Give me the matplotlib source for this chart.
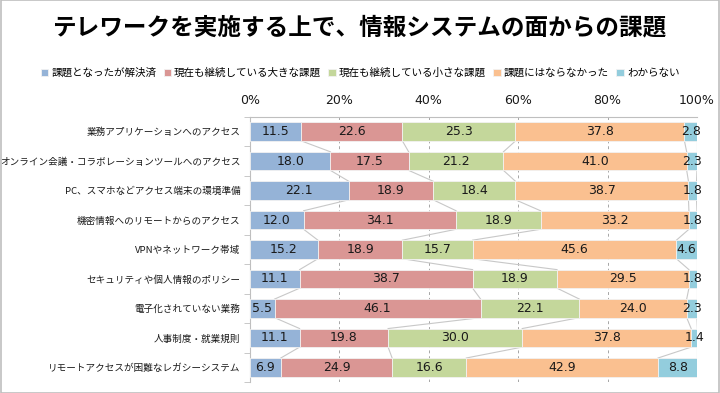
import matplotlib
matplotlib.use("Agg")
import matplotlib.pyplot as plt
import numpy as np
from matplotlib.patches import Rectangle

plt.rcParams['font.family'] = ['Noto Sans CJK JP', 'DejaVu Sans']

title = "テレワークを実施する上で、情報システムの面からの課題"
categories = [
    "業務アプリケーションへのアクセス",
    "オンライン会議・コラボレーションツールへのアクセス",
    "PC、スマホなどアクセス端末の環境準備",
    "機密情報へのリモートからのアクセス",
    "VPNやネットワーク帯域",
    "セキュリティや個人情報のポリシー",
    "電子化されていない業務",
    "人事制度・就業規則",
    "リモートアクセスが困難なレガシーシステム",
]
series_names = ["課題となったが解決済", "現在も継続している大きな課題", "現在も継続している小さな課題",
                "課題にはならなかった", "わからない"]
solved = [11.5, 18.0, 22.1, 12.0, 15.2, 11.1, 5.5, 11.1, 6.9]
big_issue = [22.6, 17.5, 18.9, 34.1, 18.9, 38.7, 46.1, 19.8, 24.9]
small_issue = [25.3, 21.2, 18.4, 18.9, 15.7, 18.9, 22.1, 30.0, 16.6]
no_issue = [37.8, 41.0, 38.7, 33.2, 45.6, 29.5, 24.0, 37.8, 42.9]
unknown = [2.8, 2.3, 1.8, 1.8, 4.6, 1.8, 2.3, 1.4, 8.8]
xticks = [0, 20, 40, 60, 80, 100]
xtick_labels = ["0%", "20%", "40%", "60%", "80%", "100%"]

colors = ["#95B3D7", "#DA9694", "#C4D79B", "#FAC090", "#93CDDD"]

fig = plt.figure(figsize=(7.2, 3.93), dpi=100)
ax = fig.add_axes([0.3472, 0.028, 0.6208, 0.6745])

data = [solved, big_issue, small_issue, no_issue, unknown]
y = np.arange(len(categories))
h = 0.63
left = np.zeros(len(categories))
cums = []
for vals, col, name in zip(data, colors, series_names):
    vals = np.array(vals)
    ax.barh(y, vals, left=left, height=h, color=col, edgecolor='#F2F2F2', linewidth=0.6,
            label=name, zorder=3)
    for yi, l, v in zip(y, left, vals):
        ax.text(l + v / 2, yi, f"{v:.1f}", ha='center', va='center', fontsize=9,
                family='DejaVu Sans', color='#1a1a1a', zorder=5)
    left = left + vals
    cums.append(left.copy())

# series lines
for c in cums:
    for i in range(len(categories) - 1):
        ax.plot([c[i], c[i + 1]], [i + h / 2, i + 1 - h / 2], color='#C8C8C8', lw=0.8, zorder=2)

ax.set_xlim(0, 100)
ax.set_ylim(len(categories) - 0.5, -0.5)
ax.xaxis.tick_top()
ax.set_xticks(xticks)
ax.set_xticklabels(xtick_labels, family='DejaVu Sans', fontsize=9, color='#1a1a1a')
ax.tick_params(axis='x', length=0, pad=7)
ax.set_yticks(y)
ax.set_yticklabels(categories, fontsize=6.9, color='#1a1a1a')
ax.tick_params(axis='y', length=0, pad=7)
ax.set_yticks(np.arange(-0.5, len(categories), 1), minor=True)
ax.tick_params(axis='y', which='minor', length=4, direction='out', color='#BFBFBF')
ax.grid(axis='x', linestyle=(0, (3, 3)), color='#A6A6A6', lw=0.7, zorder=1)
for s in ['right', 'bottom']:
    ax.spines[s].set_visible(False)
for s in ['left', 'top']:
    ax.spines[s].set_color('#BFBFBF')
    ax.spines[s].set_linewidth(0.8)

fig.text(0.5, 0.93, title, ha='center', va='center', fontsize=17, fontweight='bold')
handles, labels = ax.get_legend_handles_labels()
fig.legend(handles, labels, loc='center', bbox_to_anchor=(0.5, 0.815), ncol=5, frameon=False,
           fontsize=7.6, handlelength=0.7, handleheight=0.7, handletextpad=0.3,
           columnspacing=0.7)

fig.patches.append(Rectangle((0.001, 0.001), 0.998, 0.998, transform=fig.transFigure,
                             fill=False, edgecolor='#BFBFBF', lw=1.2))

fig.savefig("out.png", dpi=100)
